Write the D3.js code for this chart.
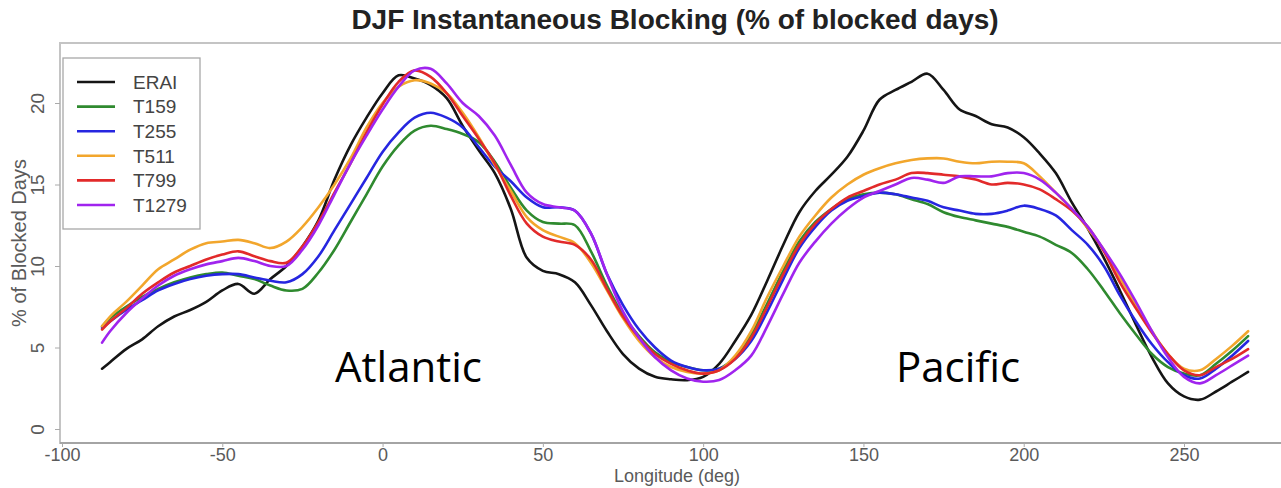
<!DOCTYPE html>
<html>
<head>
<meta charset="utf-8">
<script src="https://cdn.jsdelivr.net/npm/d3@7"></script>
<style>
  html, body { margin: 0; padding: 0; background: #fff; }
  svg { display: block; }
</style>
</head>
<body>
<svg id="chart" width="1281" height="488"></svg>
<script>
// Longitude grid (degrees east) shared by every series
const longitudes = [-87.5, -85, -80, -75, -70, -65, -60, -55, -50, -45, -40, -35, -30, -25, -20, -15, -10, -5,
  0, 5, 10, 15, 20, 25, 30, 35, 40, 45, 50, 55, 60, 65, 70, 75, 80, 85, 90, 95,
  100, 105, 110, 115, 120, 125, 130, 135, 140, 145, 150, 155, 160, 165, 170, 175, 180, 185, 190, 195,
  200, 205, 210, 215, 220, 225, 230, 235, 240, 245, 250, 255, 260, 265, 270];

// % of blocked days, DJF
const erai = [3.7, 4.1, 4.9, 5.5, 6.3, 6.9, 7.3, 7.8, 8.5, 8.9, 8.3, 9.2, 10.0, 11.2, 12.8, 15.3, 17.4, 19.1,
  20.6, 21.7, 21.5, 21.1, 20.3, 18.6, 17.1, 15.7, 13.5, 10.5, 9.7, 9.5, 9.0, 7.6, 6.0, 4.6, 3.7, 3.2, 3.05, 3.0,
  3.2, 4.0, 5.4, 7.0, 9.1, 11.3, 13.3, 14.6, 15.6, 16.7, 18.3, 20.2, 20.8, 21.3, 21.8, 20.8, 19.6, 19.2, 18.7, 18.5,
  17.9, 16.9, 15.7, 13.9, 12.3, 10.5, 8.5, 6.4, 4.4, 2.8, 2.0, 1.8, 2.3, 2.9, 3.5];

const t159 = [6.3, 6.8, 7.5, 8.1, 8.6, 9.0, 9.3, 9.5, 9.6, 9.4, 9.2, 8.8, 8.5, 8.6, 9.6, 11.0, 12.7, 14.4,
  16.1, 17.4, 18.3, 18.6, 18.4, 18.1, 17.6, 16.4, 14.8, 13.4, 12.7, 12.6, 12.5, 10.9, 8.8, 7.0, 5.7, 4.7, 4.1, 3.8,
  3.6, 3.7, 4.4, 5.8, 7.7, 9.7, 11.5, 12.7, 13.5, 14.1, 14.4, 14.5, 14.4, 14.1, 13.8, 13.3, 13.0, 12.8, 12.6, 12.4,
  12.1, 11.8, 11.3, 10.8, 9.8, 8.5, 7.1, 5.8, 4.6, 3.8, 3.4, 3.3, 4.0, 4.8, 5.7];

const t255 = [6.2, 6.6, 7.3, 7.9, 8.5, 8.9, 9.2, 9.4, 9.5, 9.5, 9.3, 9.1, 9.0, 9.5, 10.6, 12.2, 13.8, 15.4,
  17.0, 18.2, 19.1, 19.4, 19.1, 18.5, 17.3, 16.1, 15.2, 14.2, 13.6, 13.6, 13.4, 12.0, 9.5, 7.6, 6.1, 5.0, 4.2, 3.8,
  3.6, 3.7, 4.3, 5.4, 7.2, 9.2, 11.1, 12.4, 13.4, 14.0, 14.3, 14.5, 14.4, 14.2, 14.0, 13.6, 13.4, 13.2, 13.2, 13.4,
  13.7, 13.5, 13.1, 12.2, 11.3, 10.0, 8.2, 6.6, 5.2, 4.1, 3.3, 3.1, 3.7, 4.5, 5.4];

const t511 = [6.3, 6.9, 7.8, 8.8, 9.8, 10.4, 11.0, 11.4, 11.5, 11.6, 11.4, 11.1, 11.5, 12.4, 13.6, 15.0, 16.6, 18.5,
  20.0, 21.0, 21.4, 21.2, 20.6, 19.4, 17.9, 16.2, 14.6, 13.0, 12.2, 11.8, 11.4, 10.2, 8.5, 6.8, 5.4, 4.4, 3.8, 3.5,
  3.4, 3.6, 4.5, 6.0, 8.1, 10.0, 11.8, 13.1, 14.2, 15.0, 15.6, 16.0, 16.3, 16.5, 16.6, 16.6, 16.4, 16.3, 16.4, 16.4,
  16.3, 15.5, 14.5, 13.5, 12.3, 11.0, 9.3, 7.6, 6.0, 4.6, 3.7, 3.6, 4.3, 5.1, 6.0];

const t799 = [6.1, 6.6, 7.4, 8.3, 9.0, 9.6, 10.0, 10.4, 10.7, 10.9, 10.6, 10.3, 10.2, 11.2, 12.7, 14.5, 16.3, 18.2,
  19.9, 21.3, 22.0, 21.6, 20.6, 19.2, 17.8, 16.3, 14.3, 12.6, 11.8, 11.5, 11.3, 10.4, 8.6, 6.9, 5.6, 4.6, 4.0, 3.6,
  3.4, 3.6, 4.3, 5.6, 7.5, 9.5, 11.3, 12.6, 13.5, 14.2, 14.6, 15.0, 15.3, 15.7, 15.7, 15.6, 15.5, 15.3, 15.0, 15.1,
  15.0, 14.7, 14.1, 13.4, 12.4, 10.9, 9.0, 7.4, 5.9, 4.6, 3.6, 3.3, 3.8, 4.3, 4.9];

const t1279 = [5.3, 6.0, 7.1, 8.0, 8.8, 9.4, 9.8, 10.1, 10.3, 10.5, 10.3, 10.0, 10.0, 11.0, 12.5, 14.4, 16.3, 18.0,
  19.6, 21.0, 22.0, 22.1, 21.2, 20.0, 19.2, 18.0, 16.2, 14.5, 13.8, 13.6, 13.4, 12.0, 9.5, 7.2, 5.6, 4.4, 3.6, 3.1,
  2.9, 3.0, 3.6, 4.5, 6.3, 8.3, 10.2, 11.5, 12.6, 13.5, 14.2, 14.6, 15.0, 15.4, 15.3, 15.1, 15.5, 15.5, 15.5, 15.7,
  15.7, 15.3, 14.5, 13.5, 12.4, 11.0, 9.5, 7.8, 6.0, 4.4, 3.2, 2.8, 3.3, 3.9, 4.5];

const seriesNames = ["ERAI", "T159", "T255", "T511", "T799", "T1279"];
const seriesValues = [erai, t159, t255, t511, t799, t1279];
const seriesColors = ["#151515", "#2f8a2f", "#2626e0", "#f2a62c", "#e22a2a", "#a024ee"];

const xTicks = [-100, -50, 0, 50, 100, 150, 200, 250];
const yTicks = [0, 5, 10, 15, 20];

const svg = d3.select("#chart");
const font = "'Liberation Sans', Arial, sans-serif";
const axisGrey = "#5a5a5a";

const x = d3.scaleLinear().domain([-100, 250]).range([62, 1184]);
const y = d3.scaleLinear().domain([0, 20]).range([429, 103]);

// plot frame
const frame = { left: 60, right: 1300, top: 43, bottom: 443 };
svg.append("rect")
  .attr("x", frame.left).attr("y", frame.top)
  .attr("width", frame.right - frame.left).attr("height", frame.bottom - frame.top)
  .attr("fill", "none").attr("stroke", "#c4c4c4").attr("stroke-width", 2);
svg.append("line")
  .attr("x1", frame.left).attr("x2", frame.right)
  .attr("y1", frame.bottom).attr("y2", frame.bottom)
  .attr("stroke", "#9a9a9a").attr("stroke-width", 1.6);

// title, sized to span the header width
const title = svg.append("text")
  .attr("x", 675).attr("y", 29)
  .attr("text-anchor", "middle")
  .attr("font-family", font).attr("font-weight", "bold")
  .attr("font-size", 24).attr("fill", "#222")
  .text("DJF Instantaneous Blocking (% of blocked days)");
const titleW = title.node().getComputedTextLength();
title.attr("font-size", Math.min(28, 24 * 650 / titleW));

// x axis
const gx = svg.append("g")
  .attr("transform", `translate(0,${frame.bottom})`)
  .call(d3.axisBottom(x).tickValues(xTicks).tickSize(4).tickPadding(1).tickFormat(d => String(d)));
gx.select(".domain").remove();
gx.selectAll(".tick line").attr("stroke", "#aaa");
gx.selectAll(".tick text")
  .attr("font-family", font).attr("font-size", 18).attr("fill", axisGrey);

// y axis with rotated labels
const gy = svg.append("g")
  .attr("transform", `translate(${frame.left},0)`)
  .call(d3.axisLeft(y).tickValues(yTicks).tickSize(5).tickFormat(d => String(d)));
gy.select(".domain").remove();
gy.selectAll(".tick line").attr("stroke", "#aaa");
gy.selectAll(".tick text")
  .attr("x", 0).attr("dy", "0.35em")
  .attr("transform", "translate(-23,0) rotate(-90)")
  .attr("text-anchor", "middle")
  .attr("font-family", font).attr("font-size", 19).attr("fill", axisGrey);

// axis titles
svg.append("text")
  .attr("x", 677).attr("y", 482)
  .attr("text-anchor", "middle")
  .attr("font-family", font).attr("font-size", 18).attr("fill", axisGrey)
  .text("Longitude (deg)");
svg.append("text")
  .attr("transform", "translate(26,243) rotate(-90)")
  .attr("text-anchor", "middle")
  .attr("font-family", font).attr("font-size", 20).attr("fill", axisGrey)
  .text("% of Blocked Days");

// series lines
const line = d3.line()
  .x((d, i) => x(longitudes[i]))
  .y(d => y(d))
  .curve(d3.curveCatmullRom.alpha(0.5));

svg.append("g").selectAll("path")
  .data(seriesValues)
  .join("path")
  .attr("d", d => line(d))
  .attr("fill", "none")
  .attr("stroke", (d, i) => seriesColors[i])
  .attr("stroke-width", 2.6)
  .attr("stroke-linejoin", "round")
  .attr("stroke-linecap", "round");

// legend
const legend = svg.append("g");
legend.append("rect")
  .attr("x", 63).attr("y", 58).attr("width", 137).attr("height", 171)
  .attr("fill", "#fff").attr("stroke", "#a8a8a8").attr("stroke-width", 1.3);
const rows = legend.selectAll("g.row")
  .data(seriesNames)
  .join("g")
  .attr("class", "row")
  .attr("transform", (d, i) => `translate(0,${82 + i * 24.6})`);
rows.append("line")
  .attr("x1", 77).attr("x2", 115)
  .attr("stroke", (d, i) => seriesColors[i])
  .attr("stroke-width", 2.6);
rows.append("text")
  .attr("x", 133).attr("dy", "0.36em")
  .attr("font-family", font).attr("font-size", 19).attr("fill", "#444")
  .text(d => d);

// region labels
const regionFont = "'Open Sans', 'Noto Sans', sans-serif";
svg.append("text")
  .attr("x", 335).attr("y", 382)
  .attr("font-family", regionFont).attr("font-size", 42).attr("fill", "#000")
  .text("Atlantic");
svg.append("text")
  .attr("x", 896).attr("y", 382)
  .attr("font-family", regionFont).attr("font-size", 42).attr("fill", "#000")
  .text("Pacific");
</script>
</body>
</html>
